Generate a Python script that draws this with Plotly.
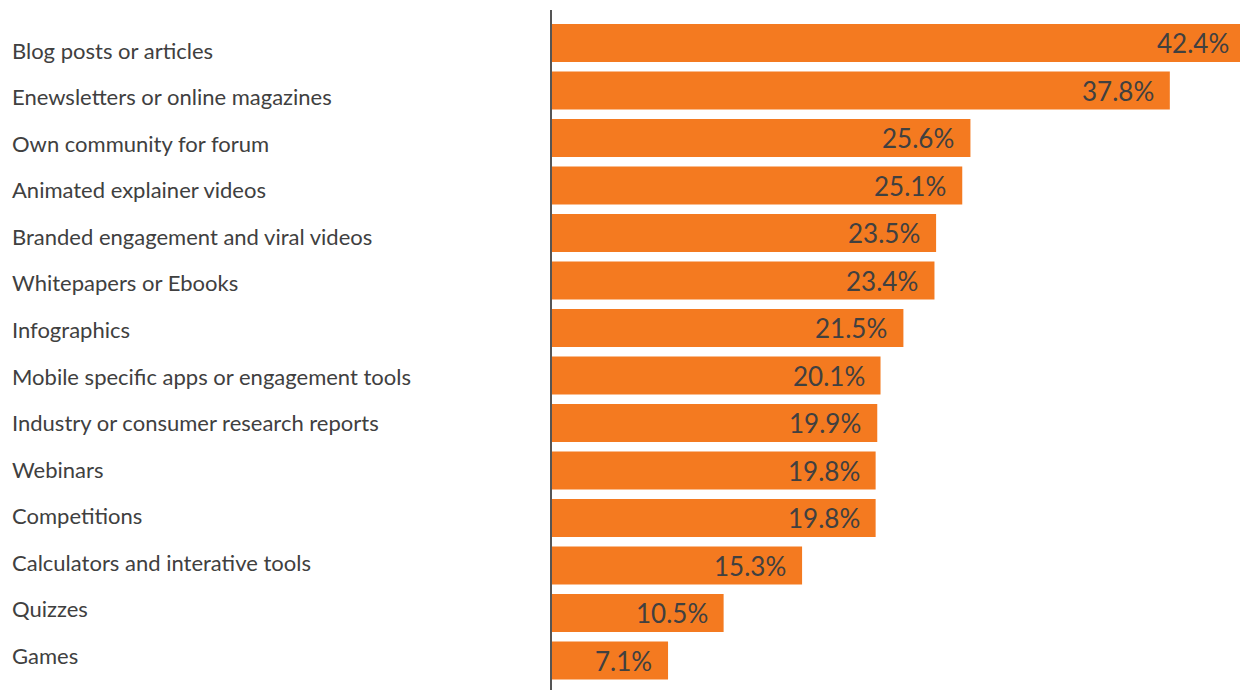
import plotly.graph_objects as go

categories = [
    "Blog posts or articles",
    "Enewsletters or online magazines",
    "Own community for forum",
    "Animated explainer videos",
    "Branded engagement and viral videos",
    "Whitepapers or Ebooks",
    "Infographics",
    "Mobile specific apps or engagement tools",
    "Industry or consumer research reports",
    "Webinars",
    "Competitions",
    "Calculators and interative tools",
    "Quizzes",
    "Games",
]
values = [42.4, 37.8, 25.6, 25.1, 23.5, 23.4, 21.5, 20.1, 19.9, 19.8, 19.8, 15.3, 10.5, 7.1]
value_labels = [f"{v:.1f}%" for v in values]

# page body has an 8px margin, so the figure is sized to fill the rest
W, H = 1240, 682
ML, MR, MT, MB = 544, 2, 2, 0
plot_w = W - ML - MR

BAR_COLOR = "#F47A20"
TEXT_COLOR = "#404040"
FONT = "Lato"

n = len(categories)
ypos = list(range(n))

fig = go.Figure()
fig.add_trace(go.Bar(
    x=values, y=ypos, orientation="h",
    marker=dict(color=BAR_COLOR, line=dict(width=0)),
    width=0.8, hoverinfo="skip",
))

annotations = []
for i, (c, v, t) in enumerate(zip(categories, values, value_labels)):
    annotations.append(dict(
        x=-(ML - 2) / plot_w, xref="paper", y=i, yref="y",
        text=c, showarrow=False, xanchor="left", yanchor="middle",
        yshift=-(7 - 12 * i / (n - 1)),
        font=dict(family=FONT, size=22, color=TEXT_COLOR),
    ))
    annotations.append(dict(
        x=v, xref="x", y=i, yref="y",
        text=t, showarrow=False, xanchor="right", yanchor="middle",
        xshift=-14, font=dict(family=FONT, size=26, color=TEXT_COLOR),
    ))

fig.update_layout(
    width=W, height=H,
    margin=dict(l=ML, r=MR, t=MT, b=MB),
    paper_bgcolor="white", plot_bgcolor="white",
    showlegend=False,
    annotations=annotations,
    xaxis=dict(range=[0, 42.46], visible=False, fixedrange=True),
    yaxis=dict(range=[13.62, -0.695], autorange=False, showticklabels=False,
               showgrid=False, zeroline=False, ticks="",
               showline=True, linecolor="#555555", linewidth=2),
    bargap=0.2,
)

fig.write_html("out.html")
